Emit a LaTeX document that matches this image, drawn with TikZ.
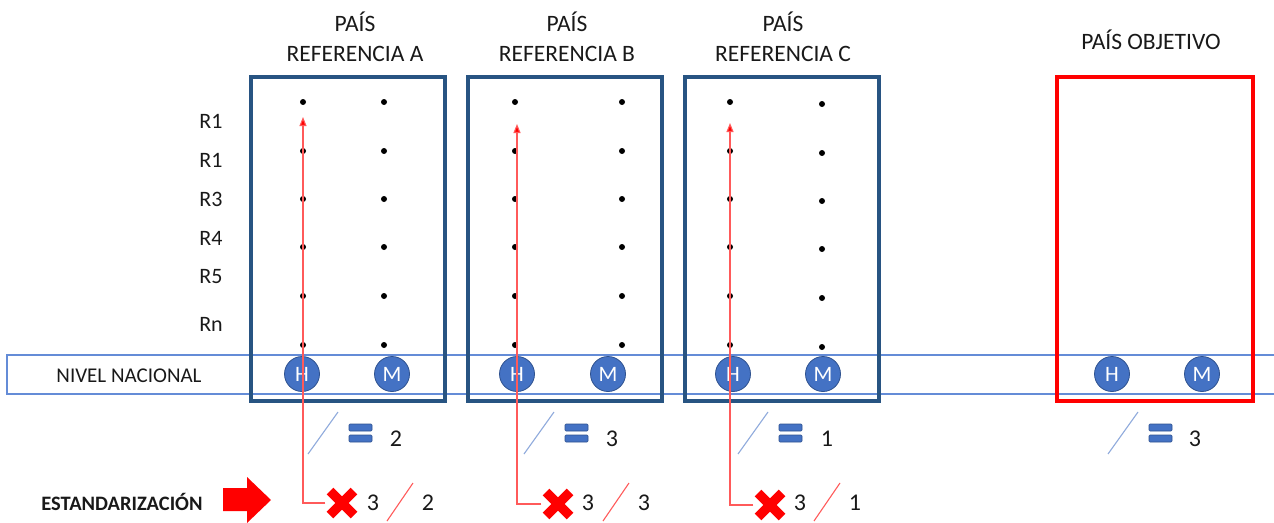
\documentclass[tikz,border=0pt]{standalone}
\usepackage{fontspec}
\setmainfont{Carlito}
\usetikzlibrary{arrows.meta}
\definecolor{boxblue}{RGB}{40,84,130}
\definecolor{offblue}{RGB}{68,114,196}
\definecolor{offdark}{RGB}{47,82,143}
\definecolor{bandblue}{RGB}{100,140,215}
\definecolor{slashblue}{RGB}{143,170,220}
\definecolor{thinred}{RGB}{255,90,90}
\definecolor{txt}{RGB}{25,25,25}
\tikzset{
  refbox/.style={draw=boxblue, line width=3.6pt},
  objbox/.style={draw=red, line width=3.6pt},
  hm/.style={circle, fill=offblue, draw=offdark, line width=0.8pt, minimum size=35pt, inner sep=0pt, text=white, font=\fontsize{22}{22}\selectfont},
  dotm/.style={circle, fill=black, inner sep=0pt, minimum size=6pt},
  title/.style={align=center, text=txt, font=\fontsize{23.5}{30}\selectfont},
  rlab/.style={text=txt, font=\fontsize{22}{22}\selectfont},
  num/.style={text=txt, font=\fontsize{24}{24}\selectfont},
  eqbar/.style={fill=offblue, draw=offdark, line width=0.6pt, rounded corners=1pt},
  bslash/.style={draw=slashblue, line width=1.1pt},
  rslash/.style={draw=thinred, line width=1.1pt},
  redline/.style={draw=thinred, line width=1.1pt, -{Triangle[length=9pt,width=7pt,fill=red]}},
  xanchor/.style={minimum size=33pt, inner sep=0pt},
}
\begin{document}
\begin{tikzpicture}[x=1pt,y=-1pt]
\useasboundingbox (0,0) rectangle (1274,522);
% band
\draw[bandblue, line width=1.2pt] (1280,355) -- (7,355) -- (7,394) -- (1280,394);
\node[text=txt, font=\fontsize{21}{21}\selectfont] (nivel) at (129,376) {NIVEL NACIONAL};
% boxes
\draw[refbox] (251,77) rectangle (445,401);
\draw[refbox] (468,77) rectangle (662,401);
\draw[refbox] (685,77) rectangle (879,401);
\draw[objbox] (1057,77) rectangle (1253,401);
% titles
\node[title] (tA) at (355,37) {PAÍS\\REFERENCIA A};
\node[title] (tB) at (567,37) {PAÍS\\REFERENCIA B};
\node[title] (tC) at (783,37) {PAÍS\\REFERENCIA C};
\node[title] (tO) at (1151,40) {PAÍS OBJETIVO};
% row labels
\node[rlab] (r1) at (211,121) {R1};
\node[rlab] (r2) at (211,160) {R1};
\node[rlab] (r3) at (211,199) {R3};
\node[rlab] (r4) at (211,238) {R4};
\node[rlab] (r5) at (211,277) {R5};
\node[rlab] (rn) at (211,324) {Rn};
% dots
\foreach \y [count=\i] in {102,151,199,247,296,345} {
  \node[dotm] (dA\i) at (303,\y) {};
  \node[dotm] (eA\i) at (384,\y) {};
  \node[dotm] (dB\i) at (515,\y) {};
  \node[dotm] (eB\i) at (622,\y) {};
  \node[dotm] (dC\i) at (730,\y) {};
  \node[dotm] (eC\i) at (822,\y+2) {};
}
% H / M circles
\node[hm] (hA) at (302,374) {H};
\node[hm] (mA) at (392,374) {M};
\node[hm] (hB) at (517,374) {H};
\node[hm] (mB) at (608,374) {M};
\node[hm] (hC) at (733,374) {H};
\node[hm] (mC) at (823,374) {M};
\node[hm] (hO) at (1112,374) {H};
\node[hm] (mO) at (1202,374) {M};
% ratio rows: slash, equals, number
\foreach \s/\n/\lab in {308/396/2, 524/612/3, 738/827/1, 1108/1195/3} {
  \draw[bslash] (\s,454) -- (\s+30,412);
  \draw[eqbar] (\s+41,424) rectangle (\s+64,431);
  \draw[eqbar] (\s+41,435) rectangle (\s+64,442);
}
\node[num] (nA) at (396,439) {2};
\node[num] (nB) at (612,439) {3};
\node[num] (nC) at (827,439) {1};
\node[num] (nO) at (1195,439) {3};
% standardization
\node[text=txt, font=\bfseries\fontsize{20.5}{20}\selectfont] (est) at (122,502) {ESTANDARIZACIÓN};
\fill[red] (223,488) -- (247,488) -- (247,477) -- (271,500) -- (247,523) -- (247,511) -- (223,511) -- cycle;
% red crosses
\foreach \cx/\cy/\nm in {342/503/xA, 558/504/xB, 770/505/xC} {
  \node[xanchor] (\nm) at (\cx,\cy) {};
  \draw[red, line width=9.5pt] (\cx-12,\cy-12) -- (\cx+12,\cy+12);
  \draw[red, line width=9.5pt] (\cx-12,\cy+12) -- (\cx+12,\cy-12);
}
\node[num] (bA1) at (373,503) {3};
\node[num] (bA2) at (428,503) {2};
\node[num] (bB1) at (588,503) {3};
\node[num] (bB2) at (644,503) {3};
\node[num] (bC1) at (800,503) {3};
\node[num] (bC2) at (855,503) {1};
\draw[rslash] (387,521) -- (413,483);
\draw[rslash] (603,521) -- (629,483);
\draw[rslash] (814,521) -- (840,483);
% red L arrows
\coordinate (tipA) at (303,117);
\coordinate (tipB) at (517,124);
\coordinate (tipC) at (730,123);
\draw[redline] (xA.west) -| (tipA);
\draw[redline] (xB.west) -| (tipB);
\draw[redline] (xC.west) -| (tipC);
\end{tikzpicture}
\end{document}
